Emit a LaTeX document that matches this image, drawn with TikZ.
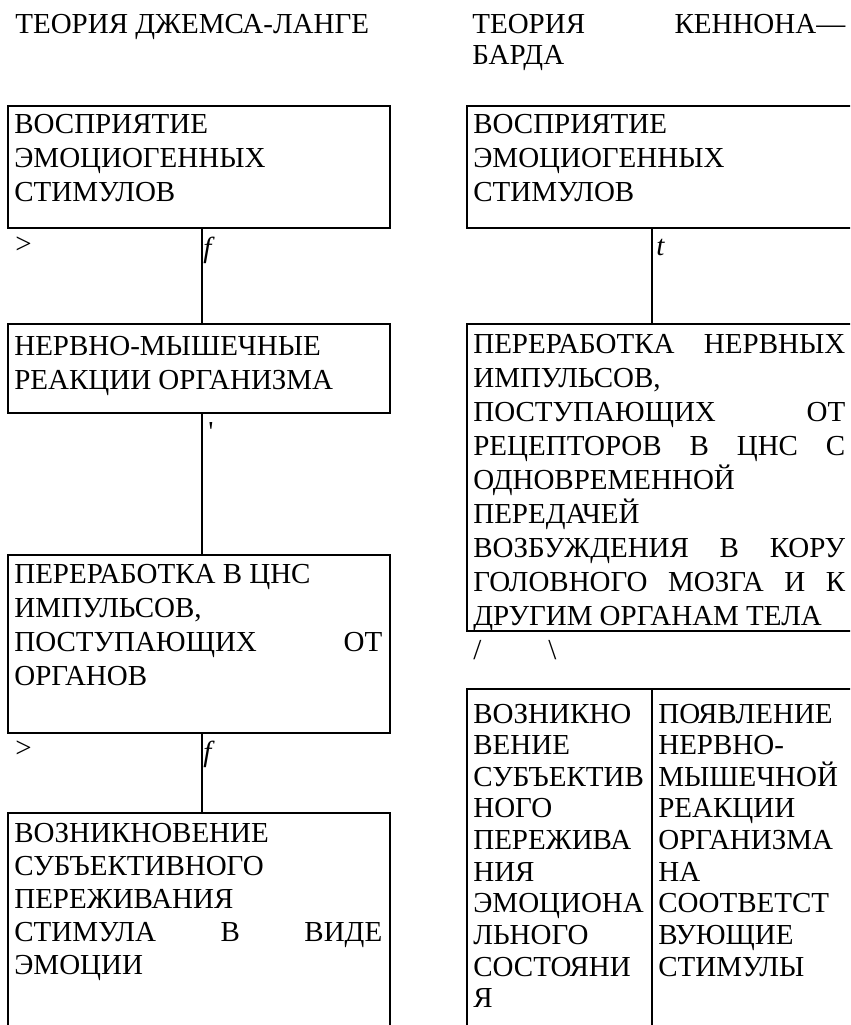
\documentclass[tikz,border=0pt]{standalone}
\usepackage{fontspec}
\setmainfont{Liberation Serif}
\usepackage{tikz}
\usetikzlibrary{positioning}

\newcommand{\boxfont}{\fontsize{16.5}{19.4}\selectfont}
\newcommand{\cellfont}{\fontsize{16.5}{18}\selectfont}

\begin{document}
\begin{tikzpicture}[x=0.02cm,y=-0.02cm,
      frame/.style 2 args={draw,line width=0.05cm,anchor=north west,
                   inner sep=0pt,outer sep=0pt,minimum width=#1,minimum height=#2},
      cellframe/.style 2 args={frame={#1}{#2},line width=0.04cm},
      link/.style={line width=0.05cm},
      txt/.style={anchor=base west,inner sep=0pt,font=\boxfont,
                  text width=#1,align=justify},
      sign/.style={anchor=base west,inner sep=0pt,font=\boxfont}]

      \useasboundingbox (0,0) rectangle (850,1025);
      \clip (0,0) rectangle (850,1025);

      % Заголовки
      \node[sign] (titleL) at (15,33) {ТЕОРИЯ ДЖЕМСА-ЛАНГЕ};
      \node[txt=7.46cm,font=\fontsize{16.5}{18.2}\selectfont] (titleR) at (472,33)
        {ТЕОРИЯ\hfill КЕННОНА—\\БАРДА};

      % Джемс-Ланге
      \node[frame={7.64cm}{2.44cm}] (l1) at (8,106) {};
      \node[txt=7.36cm] (l1t) at (14,133)
        {ВОСПРИЯТИЕ\\ЭМОЦИОГЕННЫХ\\СТИМУЛОВ};
      \node[frame={7.64cm}{1.78cm}] (l2) at (8,324) {};
      \node[txt=7.36cm] (l2t) at (14,355)
        {НЕРВНО-МЫШЕЧНЫЕ\\РЕАКЦИИ ОРГАНИЗМА};
      \node[frame={7.64cm}{3.56cm}] (l3) at (8,555) {};
      \node[txt=7.36cm] (l3t) at (14,583)
        {ПЕРЕРАБОТКА В ЦНС\\ИМПУЛЬСОВ,\\ПОСТУПАЮЩИХ\hfill ОТ\\ОРГАНОВ};
      \node[frame={7.64cm}{4.8cm}] (l4) at (8,813) {};
      \node[txt=7.36cm,font=\fontsize{16.5}{18.8}\selectfont] (l4t) at (14,842)
        {ВОЗНИКНОВЕНИЕ\\СУБЪЕКТИВНОГО\\ПЕРЕЖИВАНИЯ\\СТИМУЛА\hfill В\hfill ВИДЕ\\ЭМОЦИИ};

      \coordinate (lx) at (202,0);
      \draw[link] (l1.south -| lx) -- (l2.north -| lx);
      \draw[link] (l2.south -| lx) -- (l3.north -| lx);
      \draw[link] (l3.south -| lx) -- (l4.north -| lx);

      \node[sign] (gt1) at (15,253) {>};
      \node[sign] (f1) at (203,257) {\itshape f};
      \node[sign] (q1) at (208,441) {\textquotesingle};
      \node[sign] (gt2) at (15,757) {>};
      \node[sign] (f2) at (203,761) {\itshape f};

      % Кеннон-Бард
      \node[frame={8cm}{2.44cm}] (r1) at (467,106) {};
      \node[txt=7.44cm] (r1t) at (473,133)
        {ВОСПРИЯТИЕ\\ЭМОЦИОГЕННЫХ\\СТИМУЛОВ};
      \node[frame={8cm}{6.14cm}] (r2) at (467,324) {};
      \node[txt=7.44cm] (r2t) at (473,353)
        {ПЕРЕРАБОТКА\hfill НЕРВНЫХ\\ИМПУЛЬСОВ,\\ПОСТУПАЮЩИХ\hfill ОТ\\
         РЕЦЕПТОРОВ\hfill В\hfill ЦНС\hfill С\\ОДНОВРЕМЕННОЙ\\ПЕРЕДАЧЕЙ\\
         ВОЗБУЖДЕНИЯ\hfill В\hfill КОРУ\\ГОЛОВНОГО\hfill МОЗГА\hfill И\hfill К\\
         ДРУГИМ ОРГАНАМ ТЕЛА};

      \coordinate (rx) at (652,0);
      \draw[link] (r1.south -| rx) -- (r2.north -| rx);
      \node[sign] (t1) at (656,255) {\itshape t};
      \node[sign] (sl1) at (473,659) {/};
      \node[sign] (sl2) at (548,659) {\textbackslash};

      % Таблица
      \node[cellframe={3.7cm}{7.2cm}] (c1) at (467,689) {};
      \node[cellframe={4.3cm}{7.2cm}] (c2) at (652,689) {};
      \node[txt=3.5cm,font=\cellfont,align=left] (c1t) at (473,723)
        {ВОЗНИКНО\\ВЕНИЕ\\СУБЪЕКТИВ\\НОГО\\ПЕРЕЖИВА\\НИЯ\\ЭМОЦИОНА\\ЛЬНОГО\\СОСТОЯНИ\\Я};
      \node[txt=3.8cm,font=\cellfont,align=left] (c2t) at (658,723)
        {ПОЯВЛЕНИЕ\\НЕРВНО-\\МЫШЕЧНОЙ\\РЕАКЦИИ\\ОРГАНИЗМА\\НА\\СООТВЕТСТ\\ВУЮЩИЕ\\СТИМУЛЫ};
    \end{tikzpicture}
\end{document}
